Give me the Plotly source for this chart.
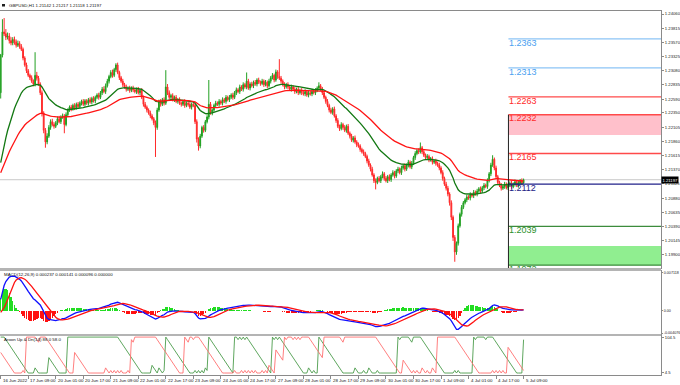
import numpy as np
import plotly.graph_objects as go
from plotly.subplots import make_subplots

# ---------------- data (prices in pips above 1.2000) ----------------
# hidden history before the first visible bar (15-16 Jun), used only to warm up indicators
pre_closes = [95, 92, 98, 100, 96, 102, 105, 100, 98, 104, 108, 105, 100, 96, 92, 98, 102, 100,
              96, 100, 175, 190, 185, 182, 180, 178, 176, 175, 172, 170, 168, 166, 165, 160, 150,
              130, 100, 70, 45, 60, 75, 110, 190, 270]

closes = [
    335, 375, 372, 366, 368, 360, 356, 362, 358, 352,
    355, 350, 345, 330, 318, 308, 300, 296, 290, 285,
    300, 295, 285, 270, 235, 205, 185, 195, 210, 220,
    215, 212, 218, 225, 220, 228, 230, 215, 232, 240,
    245, 242, 248, 244, 250, 246, 252, 255, 250, 256,
    252, 258, 254, 260, 256, 262, 266, 262, 270, 276,
    272, 282, 290, 298, 305, 300, 310, 318, 305, 296,
    290, 284, 280, 276, 278, 274, 278, 275, 272, 276,
    270, 274, 262, 250, 245, 240, 235, 230, 225, 218,
    210, 240, 255, 250, 258, 252, 280, 270, 262, 265,
    258, 262, 255, 258, 252, 250, 255, 248, 252, 250,
    245, 250, 248, 220, 190, 178, 195, 210, 205, 220,
    228, 250, 235, 240, 248, 252, 250, 255, 252, 258,
    255, 262, 258, 262, 266, 262, 270, 275, 272, 280,
    276, 284, 280, 290, 278, 285, 282, 288, 285, 292,
    288, 286, 290, 284, 288, 282, 290, 296, 300, 292,
    306, 298, 295, 290, 284, 280, 284, 280, 276, 280,
    276, 272, 276, 270, 274, 270, 268, 272, 266, 270,
    268, 272, 270, 274, 278, 282, 276, 270, 262, 255,
    248, 240, 236, 242, 230, 222, 212, 208, 215, 210,
    205, 212, 200, 195, 188, 192, 185, 180, 178, 172,
    168, 165, 160, 152, 145, 138, 128, 118, 115, 122,
    118, 125, 130, 122, 118, 125, 120, 128, 132, 126,
    135, 138, 132, 140, 144, 138, 145, 150, 142, 148,
    158, 165, 170, 168, 175, 168, 162, 158, 160, 154,
    156, 150, 152, 148, 145, 140, 132, 122, 112, 105,
    95, 80, 55, 20, -5, 10, 40, 60, 72, 80,
    85, 90, 88, 94, 92, 98, 95, 100, 104, 100,
    106, 110, 108, 118, 130, 145, 155, 140, 125, 115,
    110, 105, 108, 112, 106, 110, 114, 108, 112, 116,
    110, 114, 118, 114.2, 119.7]

upper_wick = [
    2, 22, 24, 8, 6, 5, 6, 4, 5, 4,
    5, 4, 4, 3, 3, 4, 3, 3, 4, 3,
    40, 6, 4, 3, 4, 3, 4, 5, 4, 4,
    5, 4, 3, 4, 5, 3, 4, 3, 4, 3,
    3, 4, 3, 4, 3, 4, 3, 3, 4, 3,
    3, 3, 4, 3, 4, 3, 3, 4, 3, 4,
    5, 4, 4, 3, 4, 5, 3, 3, 4, 3,
    3, 4, 3, 4, 3, 4, 3, 4, 3, 3,
    4, 3, 4, 3, 4, 3, 3, 4, 3, 3,
    4, 4, 3, 4, 3, 4, 29, 5, 4, 3,
    4, 3, 4, 3, 4, 3, 3, 4, 3, 3,
    4, 3, 4, 3, 4, 3, 4, 3, 4, 3,
    3, 42, 4, 3, 3, 4, 3, 4, 3, 4,
    3, 4, 3, 4, 3, 4, 3, 4, 3, 4,
    3, 4, 3, 15, 4, 3, 4, 3, 4, 3,
    4, 3, 4, 3, 4, 3, 4, 3, 4, 3,
    4, 3, 30, 4, 3, 4, 3, 4, 3, 4,
    3, 4, 3, 4, 3, 4, 3, 4, 3, 4,
    3, 4, 3, 4, 3, 6, 3, 4, 3, 3,
    4, 3, 4, 3, 4, 3, 4, 3, 4, 3,
    4, 3, 4, 3, 4, 3, 4, 3, 4, 3,
    3, 4, 3, 3, 4, 3, 4, 3, 4, 3,
    4, 3, 4, 3, 4, 3, 4, 3, 4, 3,
    3, 4, 3, 4, 3, 4, 3, 4, 3, 4,
    3, 4, 3, 4, 9, 3, 4, 3, 4, 3,
    3, 4, 3, 4, 3, 4, 3, 4, 3, 4,
    4, 3, 4, 3, 4, 3, 4, 3, 4, 3,
    3, 4, 3, 4, 3, 4, 3, 4, 3, 4,
    3, 4, 3, 4, 3, 4, 7, 3, 4, 3,
    3, 4, 3, 4, 3, 4, 3, 4, 3, 4,
    3, 4, 3, 4, 2]

lower_wick = [
    10, 4, 4, 5, 4, 5, 4, 4, 5, 4,
    3, 4, 3, 4, 3, 4, 3, 4, 3, 4,
    4, 4, 3, 4, 6, 5, 10, 4, 3, 4,
    3, 4, 3, 4, 3, 4, 3, 15, 3, 4,
    3, 4, 3, 4, 3, 4, 3, 4, 3, 4,
    3, 4, 3, 4, 3, 4, 3, 4, 3, 4,
    3, 4, 3, 4, 3, 4, 3, 4, 3, 4,
    3, 4, 3, 4, 3, 4, 3, 4, 3, 4,
    3, 4, 3, 4, 3, 4, 3, 4, 3, 4,
    51, 4, 3, 4, 3, 4, 3, 4, 3, 4,
    3, 4, 3, 4, 3, 4, 3, 4, 3, 4,
    3, 4, 3, 4, 6, 8, 4, 3, 4, 3,
    3, 4, 3, 4, 3, 4, 3, 4, 3, 4,
    3, 4, 3, 4, 3, 4, 3, 4, 3, 4,
    3, 4, 3, 4, 3, 4, 3, 4, 3, 4,
    3, 4, 3, 4, 3, 4, 3, 4, 3, 4,
    3, 4, 3, 4, 3, 4, 3, 4, 3, 4,
    3, 4, 3, 4, 3, 4, 3, 4, 3, 4,
    3, 4, 3, 4, 3, 4, 3, 4, 3, 4,
    3, 4, 3, 4, 3, 4, 3, 4, 3, 4,
    3, 4, 3, 4, 3, 4, 3, 4, 3, 4,
    3, 4, 3, 4, 3, 4, 3, 4, 12, 3,
    3, 4, 3, 4, 3, 4, 3, 4, 3, 4,
    3, 4, 3, 4, 3, 4, 3, 4, 3, 4,
    3, 4, 3, 4, 3, 4, 3, 4, 3, 4,
    3, 4, 3, 4, 3, 4, 3, 4, 3, 4,
    4, 5, 5, 6, 17, 5, 4, 3, 4, 3,
    3, 4, 3, 4, 3, 4, 3, 4, 3, 4,
    3, 4, 3, 4, 3, 4, 3, 4, 3, 4,
    3, 4, 3, 4, 3, 4, 3, 4, 3, 4,
    3, 4, 3, 4, 1]

x_labels = ["16 Jun 2022", "17 Jun 09:00", "20 Jun 01:00", "20 Jun 17:00", "21 Jun 09:00",
            "22 Jun 01:00", "22 Jun 17:00", "23 Jun 09:00", "24 Jun 01:00", "24 Jun 17:00",
            "27 Jun 09:00", "28 Jun 01:00", "28 Jun 17:00", "29 Jun 09:00", "30 Jun 01:00",
            "30 Jun 17:00", "1 Jul 09:00", "4 Jul 01:00", "4 Jul 17:00", "5 Jul 09:00"]
x_label_bars = [0, 16, 32, 48, 64, 80, 96, 112, 128, 144, 160, 176, 192, 208, 224, 240, 256,
                272, 288, 304]

price_ticks = [1.24060, 1.23815, 1.23570, 1.23325, 1.23080, 1.22835, 1.22590, 1.22350, 1.22105,
               1.21860, 1.21615, 1.21370, 1.21125, 1.20880, 1.20635, 1.20390, 1.20145, 1.19900,
               1.19655]

level_values = [1.2363, 1.2313, 1.2263, 1.2232, 1.2165, 1.2112, 1.2039, 1.1972]
level_colors = ["#8cc4f6", "#8cc4f6", "#ff4a4a", "#ff4a4a", "#ff4a4a", "#20208a", "#3c8c3c", "#3c8c3c"]
label_colors = ["#4a9ff0", "#4a9ff0", "#ff2a2a", "#ff2a2a", "#ff2a2a", "#1c1c86", "#2c912c", "#2c912c"]
sell_zone = [1.2197, 1.2232]
buy_zone = [1.1972, 1.2005]
zone_start_bar = 295.2
last_bid = 1.21197

title_text = "GBPUSD,H1 1.21142 1.21217 1.21118 1.21197"
macd_text = "MACD(12,26,9) 0.000237 0.000141 0.000096 0.000000"
aroon_text = "Aroon Up & Dn(14) 88.0 58.0"

# ---------------- derived series ----------------
all_c = np.array(pre_closes + closes, dtype=float) / 10000 + 1.2
npre = len(pre_closes)
n = len(closes)
c = all_c[npre:]
o = all_c[npre - 1:-1]
h = np.maximum(o, c) + np.array(upper_wick) / 10000
l = np.minimum(o, c) - np.array(lower_wick) / 10000
all_h = np.concatenate([all_c[:npre], h])
all_l = np.concatenate([all_c[:npre], l])


def ema(x, p):
    a = 2.0 / (p + 1)
    out = np.empty_like(x)
    out[0] = x[0]
    for i in range(1, len(x)):
        out[i] = a * x[i] + (1 - a) * out[i - 1]
    return out


ma_fast = ema(all_c, 28)[npre:]
ma_slow = ema(all_c, 60)[npre:]
macd_all = ema(all_c, 12) - ema(all_c, 26)
sig_all = np.array([macd_all[max(0, i - 8):i + 1].mean() for i in range(len(macd_all))])
macd = macd_all[npre:]
sig = sig_all[npre:]
hist = macd - sig

P = 14
aup, adn = [], []
for i in range(npre, npre + n):
    wh = all_h[i - P:i + 1]
    wl = all_l[i - P:i + 1]
    since_h = P - int(np.where(wh == wh.max())[0][-1])
    since_l = P - int(np.where(wl == wl.min())[0][-1])
    aup.append(100.0 * (P - since_h) / P)
    adn.append(100.0 * (P - since_l) / P)
aup = np.array(aup)
adn = np.array(adn)

idx = np.arange(n)
XR = [-0.4, 383.9]

fig = make_subplots(rows=3, cols=1, shared_xaxes=True, vertical_spacing=0.0)

fig.add_trace(go.Candlestick(
    x=idx, open=o, high=h, low=l, close=c, whiskerwidth=0,
    increasing=dict(line=dict(color="#22a022", width=1), fillcolor="#22a022"),
    decreasing=dict(line=dict(color="#ff2a2a", width=1), fillcolor="#ff2a2a"),
    hoverinfo="skip", showlegend=False), row=1, col=1)
fig.add_trace(go.Scatter(x=idx, y=ma_fast, mode="lines", line=dict(color="#127812", width=1.3),
                         hoverinfo="skip"), row=1, col=1)
fig.add_trace(go.Scatter(x=idx, y=ma_slow, mode="lines", line=dict(color="#ff1414", width=1.3),
                         hoverinfo="skip"), row=1, col=1)

# level labels (clipped text)
fig.add_trace(go.Scatter(x=[zone_start_bar + 0.3] * len(level_values), y=level_values, mode="text",
                         text=[f"{v:.4f}" for v in level_values], textposition="bottom right",
                         textfont=dict(family="Arial", size=9, color=label_colors),
                         hoverinfo="skip", cliponaxis=True), row=1, col=1)

# MACD
fig.add_trace(go.Bar(x=idx, y=hist, marker=dict(color=["#22dd22" if v >= 0 else "#ff1010" for v in hist],
                                                 line=dict(width=0)), width=0.8, hoverinfo="skip"),
              row=2, col=1)
fig.add_trace(go.Scatter(x=idx, y=macd, mode="lines", line=dict(color="#1010ff", width=1.3),
                         hoverinfo="skip"), row=2, col=1)
fig.add_trace(go.Scatter(x=idx, y=sig, mode="lines", line=dict(color="#ff1010", width=1.3),
                         hoverinfo="skip"), row=2, col=1)

# Aroon
fig.add_trace(go.Scatter(x=idx, y=aup, mode="lines", line=dict(color="#4c9c4c", width=0.9),
                         hoverinfo="skip"), row=3, col=1)
fig.add_trace(go.Scatter(x=idx, y=adn, mode="lines", line=dict(color="#ff7070", width=0.9),
                         hoverinfo="skip"), row=3, col=1)

H = 385.0


def py(pix):
    return 1 - pix / H


tickfont = dict(family="Arial", size=4.2, color="#222")
axcol = "#8a8a8a"
common_x = dict(range=XR, showgrid=False, showticklabels=False, showline=True, mirror=True,
                linecolor=axcol, linewidth=1, zeroline=False, automargin=False)
common_y = dict(side="right", showgrid=False, tickfont=tickfont, ticks="outside", ticklen=2,
                tickcolor=axcol, showline=True, linecolor=axcol, zeroline=False, automargin=False)
fig.update_layout(
    width=680, height=385, margin=dict(l=0, r=19, t=0, b=0, autoexpand=False),
    paper_bgcolor="white", plot_bgcolor="white", showlegend=False, bargap=0,
    xaxis=dict(**common_x, rangeslider=dict(visible=False)),
    xaxis2=dict(**common_x),
    xaxis3=dict(**common_x, ticks="outside", ticklen=3, tickcolor=axcol, tickvals=x_label_bars),
    yaxis=dict(**common_y, domain=[py(268), py(11)], range=[1.19672, 1.24112],
               tickvals=price_ticks, ticktext=[f"{v:.5f}" for v in price_ticks]),
    yaxis2=dict(**common_y, domain=[py(334), py(271)], range=[-0.00425, 0.00735],
                tickvals=[0.007118, 0.0, -0.004076], ticktext=["0.007118", "0.00", "-0.004076"]),
    yaxis3=dict(**common_y, domain=[py(375), py(336)], range=[-5.5, 103],
                tickvals=[99, 1], ticktext=["104.5", "4.5"]),
)
fig.update_yaxes(tickfont=dict(family="Arial", size=3.7, color="#222"), ticklen=1, row=2, col=1)

shapes = []
shapes.append(dict(type="rect", xref="x", yref="y", x0=zone_start_bar, x1=XR[1] + 5,
                   y0=sell_zone[0], y1=sell_zone[1], fillcolor="#ffc0cb", line=dict(width=0),
                   layer="below"))
shapes.append(dict(type="rect", xref="x", yref="y", x0=zone_start_bar, x1=XR[1] + 5,
                   y0=buy_zone[0], y1=buy_zone[1], fillcolor="#90ee90", line=dict(width=0),
                   layer="below"))
shapes.append(dict(type="line", xref="x", yref="y", x0=XR[0], x1=XR[1], y0=last_bid, y1=last_bid,
                   line=dict(color="#c8c8c8", width=1), layer="below"))
for v, col in zip(level_values, level_colors):
    shapes.append(dict(type="line", xref="x", yref="y", x0=zone_start_bar, x1=XR[1] + 5, y0=v, y1=v,
                       line=dict(color=col, width=1.3)))
shapes.append(dict(type="line", xref="x", yref="y", x0=zone_start_bar, x1=zone_start_bar,
                   y0=sell_zone[1], y1=1.19, line=dict(color="#202020", width=1)))
for y0p, y1p in [(268, 271), (334, 336)]:
    shapes.append(dict(type="rect", xref="paper", yref="paper", x0=0, x1=1, y0=py(y1p), y1=py(y0p),
                       fillcolor="#b4b4b4", line=dict(width=0)))
shapes.append(dict(type="rect", xref="paper", yref="paper", x0=2 / 661, x1=5 / 661, y0=py(6.5),
                   y1=py(4), fillcolor="#202020", line=dict(width=0)))
fig.update_layout(shapes=shapes)

ann = []
small = dict(family="Arial", size=4.4, color="#111")
ann.append(dict(xref="paper", yref="paper", x=7 / 661, y=py(5.2), text=title_text, showarrow=False,
                xanchor="left", yanchor="middle", font=small))
ann.append(dict(xref="paper", yref="paper", x=2 / 661, y=py(274.5), text=macd_text, showarrow=False,
                xanchor="left", yanchor="middle", font=small))
ann.append(dict(xref="paper", yref="paper", x=2 / 661, y=py(339.5), text=aroon_text, showarrow=False,
                xanchor="left", yanchor="middle", font=small))
for b, t in zip(x_label_bars, x_labels):
    ann.append(dict(xref="x3", yref="paper", x=b, y=py(380.5), text=t, showarrow=False,
                    xanchor="left", yanchor="middle", font=small))
ann.append(dict(xref="paper", yref="y", x=1.0, y=last_bid, text=f"{last_bid:.5f}", showarrow=False,
                xanchor="left", yanchor="middle", bgcolor="#000000", borderpad=0.5,
                font=dict(family="Arial", size=4.2, color="#ffffff")))
fig.update_layout(annotations=ann)

fig.write_html("out.html", config={"displayModeBar": False, "staticPlot": True},
               post_script="document.body.style.margin='0';document.body.style.overflow='hidden';")
